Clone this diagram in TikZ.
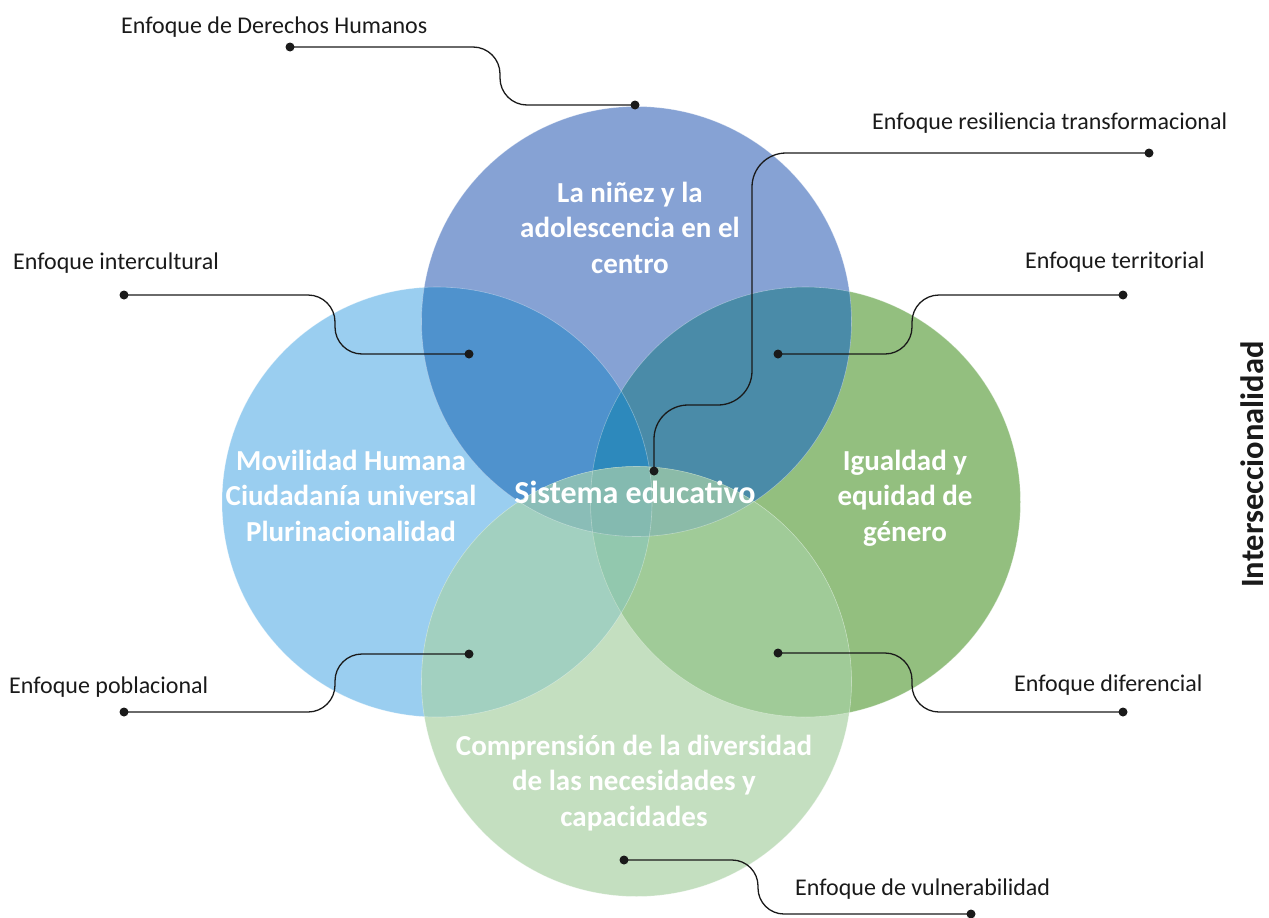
\documentclass[tikz,border=0pt]{standalone}
\usepackage{fontspec}
\setmainfont{Carlito}
\definecolor{colT}{HTML}{86A2D4}
\definecolor{colL}{HTML}{9ACEF0}
\definecolor{colR}{HTML}{93BF7F}
\definecolor{colB}{HTML}{C4DFC0}
\definecolor{colTL}{HTML}{4F92CD}
\definecolor{colTR}{HTML}{4A8BA8}
\definecolor{colLB}{HTML}{A2D0C0}
\definecolor{colRB}{HTML}{A0CB98}
\definecolor{colTLR}{HTML}{2D89BC}
\definecolor{colLRB}{HTML}{92C8AE}
\definecolor{colTBL}{HTML}{8ABDB7}
\definecolor{colTBR}{HTML}{8BBBA8}
\definecolor{colAll}{HTML}{84BAB0}
\definecolor{lineC}{HTML}{1A1A1A}
\begin{document}
\begin{tikzpicture}[x=1pt,y=-1pt,
  dot/.style={circle,fill=lineC,inner sep=0pt,minimum size=9pt},
  conn/.style={draw=lineC,line width=1.3pt,rounded corners=27pt},
  lbl/.style={text=lineC,inner sep=0pt,font=\fontsize{24}{28}\selectfont},
  ctext/.style={text=white,inner sep=0pt,text width=420pt,align=flush center,
    font=\fontsize{29}{35.5}\selectfont\bfseries},
  rim/.style={draw=white,draw opacity=.35,line width=.6pt}]
\useasboundingbox (0,0) rectangle (1269,918);
\coordinate (cT) at (636.5,321.5);
\coordinate (cL) at (437,502);
\coordinate (cR) at (805.5,502);
\coordinate (cB) at (636.5,681.5);
% base circles
\fill[colL] (cL) circle (215pt);
\fill[colR] (cR) circle (215pt);
\fill[colT] (cT) circle (215pt);
\fill[colB] (cB) circle (215pt);
% pairwise
\begin{scope}\clip (cT) circle (215pt); \fill[colTL] (cL) circle (215pt); \end{scope}
\begin{scope}\clip (cT) circle (215pt); \fill[colTR] (cR) circle (215pt); \end{scope}
\begin{scope}\clip (cB) circle (215pt); \fill[colLB] (cL) circle (215pt); \end{scope}
\begin{scope}\clip (cB) circle (215pt); \fill[colRB] (cR) circle (215pt); \end{scope}
% triples
\begin{scope}\clip (cT) circle (215pt); \clip (cL) circle (215pt); \fill[colTLR] (cR) circle (215pt); \end{scope}
\begin{scope}\clip (cB) circle (215pt); \clip (cL) circle (215pt); \fill[colLRB] (cR) circle (215pt); \end{scope}
\begin{scope}\clip (cT) circle (215pt); \clip (cB) circle (215pt); \fill[colTBL] (cL) circle (215pt); \end{scope}
\begin{scope}\clip (cT) circle (215pt); \clip (cB) circle (215pt); \fill[colTBR] (cR) circle (215pt); \end{scope}
% all four
\begin{scope}\clip (cT) circle (215pt); \clip (cB) circle (215pt); \clip (cL) circle (215pt); \fill[colAll] (cR) circle (215pt); \end{scope}
% rims
\draw[rim] (cL) circle (215pt);
\draw[rim] (cR) circle (215pt);
\draw[rim] (cT) circle (215pt);
\draw[rim] (cB) circle (215pt);
% circle texts
\node[ctext,anchor=base] (tT) at (630,202) {La niñez y la\\adolescencia en el\\centro};
\node[ctext,anchor=base] (tL) at (351,470) {Movilidad Humana\\Ciudadanía universal\\Plurinacionalidad};
\node[ctext,anchor=base] (tR) at (905,470) {Igualdad y\\equidad de\\género};
\node[ctext,anchor=base] (tB) at (634,755) {Comprensión de la diversidad\\de las necesidades y\\capacidades};
\node[text=white,inner sep=0pt,anchor=base,font=\fontsize{32}{38}\selectfont\bfseries] (tS) at (635,503) {Sistema educativo};
% dots
\node[dot] (dh1) at (290,47) {};
\node[dot] (dh2) at (635,105) {};
\node[dot] (rt1) at (1149,153) {};
\node[dot] (rt2) at (654,471) {};
\node[dot] (ic1) at (124,295) {};
\node[dot] (ic2) at (469,354) {};
\node[dot] (te1) at (1123,295) {};
\node[dot] (te2) at (778,354) {};
\node[dot] (po1) at (124,712) {};
\node[dot] (po2) at (469,654) {};
\node[dot] (di1) at (1123,712) {};
\node[dot] (di2) at (778,653) {};
\node[dot] (vu1) at (624,860) {};
\node[dot] (vu2) at (971,914) {};
% connectors
\draw[conn] (dh1.center) -- (500,47) -- (500,105) -- (dh2.center);
\draw[conn,rounded corners=34pt] (rt1.center) -- (752,153) -- (752,405) -- (654,405) -- (rt2.center);
\draw[conn] (ic1.center) -- (335,295) -- (335,354) -- (ic2.center);
\draw[conn] (te1.center) -- (912,295) -- (912,354) -- (te2.center);
\draw[conn] (po1.center) -- (335,712) -- (335,654) -- (po2.center);
\draw[conn] (di1.center) -- (912,712) -- (912,653) -- (di2.center);
\draw[conn,rounded corners=26pt] (vu1.center) -- (758,860) -- (758,914) -- (vu2.center);
% labels
\node[lbl,anchor=base west] (ldh) at (121,33) {Enfoque de Derechos Humanos};
\node[lbl,anchor=base west] (lrt) at (872,129) {Enfoque resiliencia transformacional};
\node[lbl,anchor=base west] (lic) at (13,269) {Enfoque intercultural};
\node[lbl,anchor=base west] (lte) at (1025,268) {Enfoque territorial};
\node[lbl,anchor=base west] (lpo) at (9,693) {Enfoque poblacional};
\node[lbl,anchor=base west] (ldi) at (1014,691) {Enfoque diferencial};
\node[lbl,anchor=base west] (lvu) at (795,895) {Enfoque de vulnerabilidad};
\node[text=lineC,inner sep=0pt,rotate=90,anchor=base,font=\fontsize{32.5}{38}\selectfont\bfseries] (inter) at (1263,464.5) {Interseccionalidad};
\end{tikzpicture}
\end{document}
